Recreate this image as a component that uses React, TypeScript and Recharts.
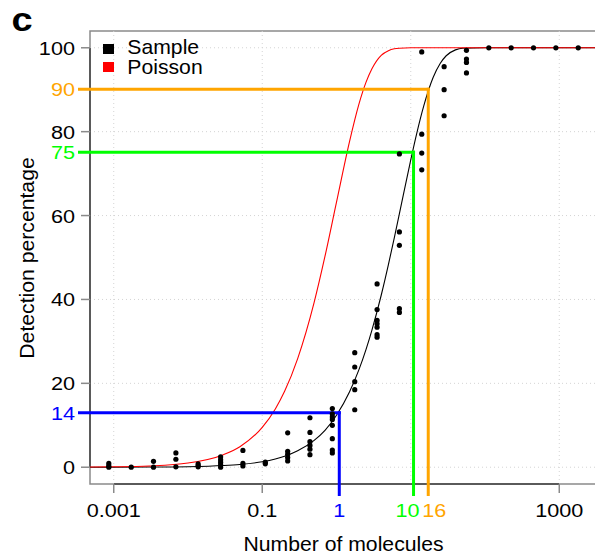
import React from 'react'
import { ComposedChart, Line, Scatter, XAxis, YAxis, ReferenceLine, ReferenceArea, Legend } from 'recharts'

// dilution series (molecules per reaction) and the detection % of each replicate
const molecules = [1800, 900, 450, 225, 112.5, 56.25, 28.13, 14.06, 7.03, 3.52, 1.76, 0.879, 0.439, 0.22, 0.11, 0.0549, 0.0275, 0.0137, 0.00687, 0.00343, 0.00172, 0.000858]

const detection = [
  [100],
  [100],
  [100],
  [100],
  [100],
  [99.4, 97.3, 96.5, 94.0],
  [95.5, 90.0, 83.8],
  [99.0, 79.4, 74.9, 70.9],
  [74.7, 56.1, 52.9, 37.8, 36.9],
  [43.7, 37.6, 35.0, 34.2, 33.4, 31.6, 31.0],
  [27.3, 23.9, 20.4, 18.5, 13.7],
  [14.0, 12.7, 12.0, 11.4, 10.0, 6.8, 4.1, 3.4],
  [11.8, 8.3, 6.1, 5.2, 4.3, 3.0],
  [8.2, 3.8, 3.1, 2.3, 1.5],
  [1.2, 0.8],
  [4.0, 0.9, 0.3],
  [2.5, 1.8, 1.2, 0.6, 0.0],
  [0.8, 0.4, 0.1],
  [3.4, 1.9, 0.1],
  [1.4, 0.0],
  [0.0],
  [0.9, 0.3, 0.0],
]

// fitted curves
const curveX = [0.00048, 0.001, 0.003, 0.01, 0.03, 0.05, 0.1, 0.15, 0.2, 0.3, 0.5, 0.7, 1, 1.5, 2, 2.5, 3, 4, 5, 6, 7, 10, 12, 15, 20, 25, 30, 40, 50, 100, 3220]
const poissonY = [0.05, 0.1, 0.3, 1.0, 3.0, 4.9, 9.5, 13.9, 18.1, 25.9, 39.3, 50.3, 63.2, 77.7, 86.5, 91.8, 95.0, 98.2, 99.3, 99.75, 99.9, 100, 100, 100, 100, 100, 100, 100, 100, 100, 100]
const sampleY = [0.01, 0.01, 0.04, 0.13, 0.4, 0.66, 1.3, 1.96, 2.6, 3.9, 6.4, 8.8, 12.4, 18.0, 23.2, 28.1, 32.7, 41.0, 48.3, 54.7, 60.3, 73.3, 79.5, 86.2, 92.9, 96.3, 98.1, 99.5, 99.9, 100, 100]

const gridX = [0.001, 0.1, 10, 1000]
const gridY = [0, 20, 40, 60, 80, 100]
const plainXTicks = [0.001, 0.1, 1000]
const plainYTicks = [0, 20, 40, 60, 80, 100]

// threshold read-outs: where each line sits, and the label printed for it
const markers = [
  { percent: 13, percentLabel: '14', molecules: 1.09, moleculesLabel: '1', color: '#0000ff' },
  { percent: 75.1, percentLabel: '75', molecules: 10.9, moleculesLabel: '10', color: '#00ff00' },
  { percent: 90.1, percentLabel: '90', molecules: 17.2, moleculesLabel: '16', color: '#ffa500' },
]

const X_DOMAIN = [0.000479, 3222]
const Y_DOMAIN = [-4, 104]
const X_OUTSIDE = 0.000346 // reference lines run past the left axis into the tick area
const Y_OUTSIDE = -6.5

const FONT = '"Liberation Sans", Arial, Helvetica, sans-serif'
const AXIS_GRAY = '#8a8a8a'

const samplePoints = molecules.flatMap((m, i) => detection[i].map((d) => ({ x: m, y: d })))
const sampleCurve = curveX.map((x, i) => ({ x, y: sampleY[i] }))
const poissonCurve = curveX.map((x, i) => ({ x, y: poissonY[i] }))

const xTicks = [...plainXTicks, ...markers.map((m) => m.molecules)].sort((a, b) => a - b)
const yTicks = [...plainYTicks, ...markers.map((m) => m.percent)].sort((a, b) => a - b)

const yMarker: Record<number, { color: string; text: string }> = {}
const xMarker: Record<number, { color: string; text: string }> = {}
markers.forEach((m) => {
  yMarker[m.percent] = { color: m.color, text: m.percentLabel }
  xMarker[m.molecules] = { color: m.color, text: m.moleculesLabel }
})
const xNudge: Record<string, number> = { '10': -6, '16': 6 }

function YTick({ x, y, payload }: any) {
  const v = payload.value
  const mk = yMarker[v]
  const edge = x + 15
  return (
    <g>
      {!mk && <line x1={edge - 9} x2={edge} y1={y} y2={y} stroke={AXIS_GRAY} strokeWidth={1.5} />}
      <text
        transform={`translate(${x},${y + 7}) scale(1.14,1)`}
        textAnchor="end"
        fontSize={19}
        fontFamily={FONT}
        fill={mk ? mk.color : '#000'}
      >
        {mk ? mk.text : v}
      </text>
    </g>
  )
}

function XTick({ x, y, payload }: any) {
  const v = payload.value
  const mk = xMarker[v]
  const text = mk ? mk.text : String(v)
  const top = y - 13
  return (
    <g>
      {!mk && <line x1={x} x2={x} y1={top} y2={top + 9} stroke={AXIS_GRAY} strokeWidth={1.5} />}
      <text
        transform={`translate(${x + (xNudge[text] ?? 0)},${y + 20}) scale(1.14,1)`}
        textAnchor="middle"
        fontSize={19}
        fontFamily={FONT}
        fill={mk ? mk.color : '#000'}
      >
        {text}
      </text>
    </g>
  )
}

function XTitle() {
  return (
    <text transform="translate(343.5,551) scale(1.06,1)" textAnchor="middle" fontSize={20} fontFamily={FONT} fill="#000">
      Number of molecules
    </text>
  )
}

function YTitle() {
  return (
    <text transform="translate(33.5,258) rotate(-90) scale(1.06,1)" textAnchor="middle" fontSize={20} fontFamily={FONT} fill="#000">
      Detection percentage
    </text>
  )
}

function LegendBox() {
  return (
    <svg width={240} height={90} style={{ display: 'block' }}>
      <text transform="translate(11.4,30.5) scale(1.15,1)" fontSize={33} fontWeight="bold" fontFamily={FONT} fill="#000">
        c
      </text>
      <rect x={103} y={44} width={11} height={10} fill="#000" />
      <rect x={103} y={62} width={11} height={10} fill="#ff0000" />
      <text transform="translate(127.3,54.3) scale(1.06,1)" fontSize={20} fontFamily={FONT} fill="#000">
        Sample
      </text>
      <text transform="translate(127.3,74.3) scale(1.06,1)" fontSize={20} fontFamily={FONT} fill="#000">
        Poisson
      </text>
    </svg>
  )
}

function Dot({ cx, cy }: any) {
  return <circle cx={cx} cy={cy} r={2.6} fill="#000" />
}

export default function App() {
  return (
    <div style={{ position: 'absolute', left: 0, top: 0, width: 595, height: 558, overflow: 'hidden', background: '#fff' }}>
      <ComposedChart width={600} height={558} margin={{ top: 31, right: 3, bottom: 0, left: 0 }}>
        <XAxis
          dataKey="x"
          type="number"
          scale="log"
          domain={X_DOMAIN}
          allowDataOverflow
          ticks={xTicks}
          interval={0}
          tick={<XTick />}
          tickLine={false}
          axisLine={false}
          tickSize={9}
          tickMargin={4}
          height={74}
          label={<XTitle />}
        />
        <YAxis
          type="number"
          domain={Y_DOMAIN}
          allowDataOverflow
          ticks={yTicks}
          interval={0}
          tick={<YTick />}
          tickLine={false}
          axisLine={false}
          tickSize={9}
          tickMargin={6}
          width={90}
          label={<YTitle />}
        />

        {gridX.map((g) => (
          <ReferenceLine key={`gx-${g}`} x={g} stroke="#d4d4d4" strokeDasharray="1 3" strokeWidth={1} />
        ))}
        {gridY.map((g) => (
          <ReferenceLine key={`gy-${g}`} y={g} stroke="#d4d4d4" strokeDasharray="1 3" strokeWidth={1} />
        ))}

        <ReferenceArea
          x1={X_DOMAIN[0]}
          x2={X_DOMAIN[1]}
          y1={Y_DOMAIN[0]}
          y2={Y_DOMAIN[1]}
          fill="none"
          stroke={AXIS_GRAY}
          strokeWidth={1.5}
          ifOverflow="visible"
        />
        <ReferenceLine
          segment={[{ x: plainXTicks[0], y: Y_DOMAIN[0] }, { x: plainXTicks[plainXTicks.length - 1], y: Y_DOMAIN[0] }]}
          stroke="#404040"
          strokeWidth={1.5}
          ifOverflow="visible"
        />
        <ReferenceLine
          segment={[{ x: X_DOMAIN[0], y: plainYTicks[0] }, { x: X_DOMAIN[0], y: plainYTicks[plainYTicks.length - 1] }]}
          stroke="#404040"
          strokeWidth={1.5}
          ifOverflow="visible"
        />

        <Line data={sampleCurve} dataKey="y" type="monotone" stroke="#000" strokeWidth={1.1} dot={false} isAnimationActive={false} />
        <Line data={poissonCurve} dataKey="y" type="monotone" stroke="#ff0000" strokeWidth={1.1} dot={false} isAnimationActive={false} />

        {markers.map((m) => (
          <ReferenceLine
            key={`h-${m.percentLabel}`}
            segment={[{ x: X_OUTSIDE, y: m.percent }, { x: m.molecules, y: m.percent }]}
            stroke={m.color}
            strokeWidth={3}
            strokeLinecap="square"
            ifOverflow="visible"
          />
        ))}
        {markers.map((m) => (
          <ReferenceLine
            key={`v-${m.percentLabel}`}
            segment={[{ x: m.molecules, y: m.percent }, { x: m.molecules, y: Y_OUTSIDE }]}
            stroke={m.color}
            strokeWidth={3}
            strokeLinecap="square"
            ifOverflow="visible"
          />
        ))}

        <Scatter data={samplePoints} dataKey="y" shape={<Dot />} isAnimationActive={false} />

        <Legend
          layout="horizontal"
          verticalAlign="middle"
          align="center"
          content={() => <LegendBox />}
          wrapperStyle={{ left: 0, top: 0, width: 240, height: 90 }}
        />
      </ComposedChart>
    </div>
  )
}
